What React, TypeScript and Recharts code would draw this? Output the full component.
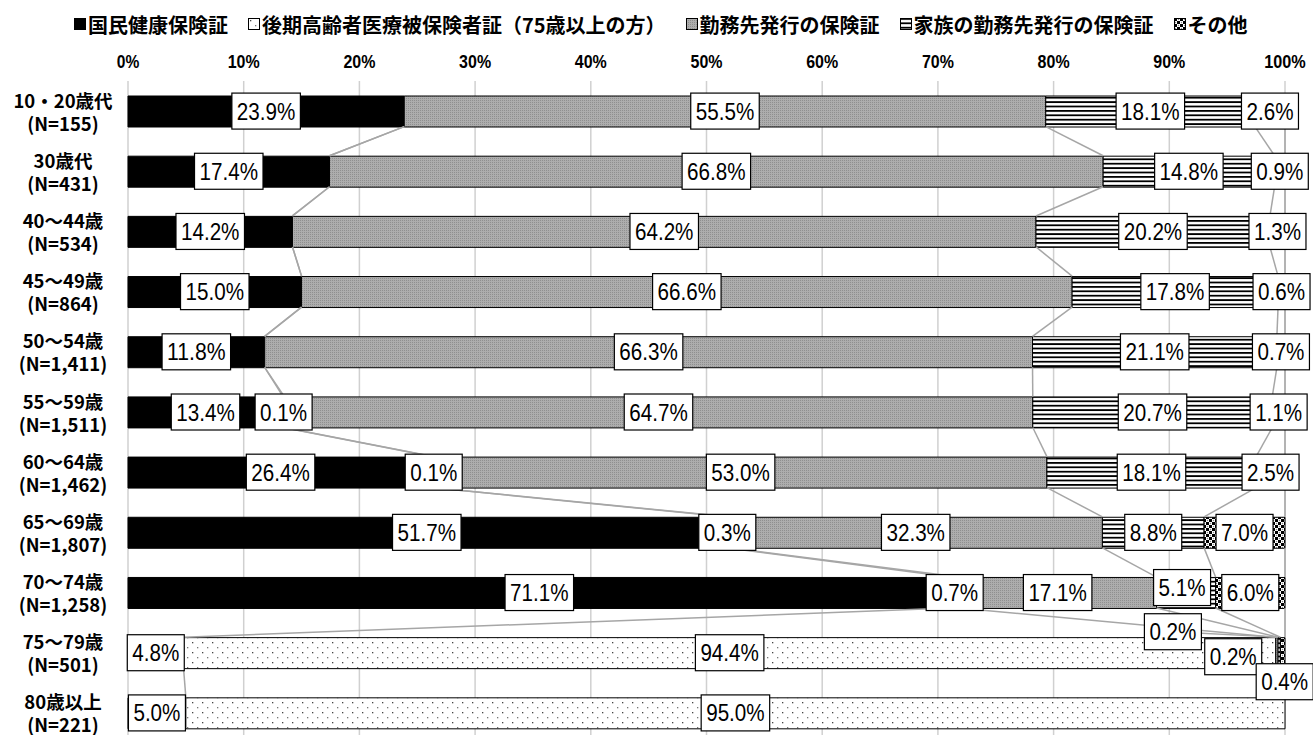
import {
  Bar,
  BarChart,
  CartesianGrid,
  ReferenceDot,
  ReferenceLine,
  XAxis,
  YAxis,
} from "recharts";

// 年代別・保有している保険証（%）
const AGE_GROUPS = [
  "10・20歳代",
  "30歳代",
  "40～44歳",
  "45～49歳",
  "50～54歳",
  "55～59歳",
  "60～64歳",
  "65～69歳",
  "70～74歳",
  "75～79歳",
  "80歳以上",
];
const SAMPLE_SIZES = [
  "N=155",
  "N=431",
  "N=534",
  "N=864",
  "N=1,411",
  "N=1,511",
  "N=1,462",
  "N=1,807",
  "N=1,258",
  "N=501",
  "N=221",
];

const KOKUHO = [23.9, 17.4, 14.2, 15.0, 11.8, 13.4, 26.4, 51.7, 71.1, 4.8, 5.0];
const KOUKI = [0, 0, 0, 0, 0, 0.1, 0.1, 0.3, 0.7, 94.4, 95.0];
const KINMU = [55.5, 66.8, 64.2, 66.6, 66.3, 64.7, 53.0, 32.3, 17.1, 0.2, 0];
const KAZOKU = [18.1, 14.8, 20.2, 17.8, 21.1, 20.7, 18.1, 8.8, 5.1, 0.2, 0];
const SONOTA = [2.6, 0.9, 1.3, 0.6, 0.7, 1.1, 2.5, 7.0, 6.0, 0.4, 0];

const SERIES_KEYS = ["kokuho", "kouki", "kinmu", "kazoku", "sonota"];
const SERIES_NAMES = [
  "国民健康保険証",
  "後期高齢者医療被保険者証（75歳以上の方）",
  "勤務先発行の保険証",
  "家族の勤務先発行の保険証",
  "その他",
];
const SERIES_VALUES = [KOKUHO, KOUKI, KINMU, KAZOKU, SONOTA];

const X_TICKS = [0, 0.1, 0.2, 0.3, 0.4, 0.5, 0.6, 0.7, 0.8, 0.9, 1];

// layout
const W = 1313;
const H = 745;
const MARGIN = { top: 51, right: 28, bottom: 2, left: 0 };
const X_AXIS_H = 30;
const Y_AXIS_W = 128;
const BAR = 31;
const LINE_GRAY = "#a6a6a6";

// labels that were dragged off their segment in the original
const LABEL_NUDGE: Record<string, { dx: number; dy: number }> = {
  "kazoku-8": { dx: -4, dy: -5 },
  "kinmu-9": { dx: -104, dy: -21 },
  "kazoku-9": { dx: -46, dy: 4 },
  "sonota-9": { dx: 2, dy: 29 },
};

const rows = AGE_GROUPS.map((group, i) => {
  const row: Record<string, string | number> = { group, n: SAMPLE_SIZES[i] };
  SERIES_KEYS.forEach((k, s) => (row[k] = SERIES_VALUES[s][i]));
  return row;
});

const rowTotal = (i: number) => SERIES_VALUES.reduce((sum, v) => sum + v[i], 0);
const cumEnd = (s: number, i: number) => {
  let acc = 0;
  for (let k = 0; k <= s; k++) acc += SERIES_VALUES[k][i];
  return acc / rowTotal(i);
};

function Patterns({ prefix }: { prefix: string }) {
  return (
    <defs>
      <pattern id={`${prefix}-kouki`} width={10} height={10} patternUnits="userSpaceOnUse">
        <rect width={10} height={10} fill="#fff" />
        <rect x={2} y={2} width={1.3} height={1.3} fill="#444" />
        <rect x={7} y={7} width={1.3} height={1.3} fill="#777" />
      </pattern>
      <pattern id={`${prefix}-kinmu`} width={2} height={2} patternUnits="userSpaceOnUse">
        <rect width={2} height={2} fill="#adadad" />
        <rect width={1} height={1} fill="#8f8f8f" />
      </pattern>
      <pattern id={`${prefix}-kazoku`} width={4} height={4.4} patternUnits="userSpaceOnUse">
        <rect width={4} height={4.4} fill="#fff" />
        <rect width={4} height={1.8} fill="#000" />
      </pattern>
      <pattern id={`${prefix}-sonota`} width={6} height={6} patternUnits="userSpaceOnUse">
        <rect width={6} height={6} fill="#fff" />
        <rect width={3} height={3} fill="#000" />
        <rect x={3} y={3} width={3} height={3} fill="#000" />
        <circle cx={4.5} cy={1.5} r={0.7} fill="#888" />
        <circle cx={1.5} cy={4.5} r={0.7} fill="#888" />
      </pattern>
    </defs>
  );
}

const fillFor = (prefix: string, key: string) => (key === "kokuho" ? "#000" : `url(#${prefix}-${key})`);

const textWidth = (t: string, digit: number, dot: number, pct: number) =>
  [...t].reduce((w, c) => w + (c === "." ? dot : c === "%" ? pct : digit), 0);

function XTick(props: any) {
  const { x, y, payload } = props;
  const t = `${Math.round(payload.value * 100)}%`;
  return (
    <text
      x={x}
      y={y}
      textAnchor="middle"
      fontFamily="'Liberation Sans', Arial, sans-serif"
      fontWeight={700}
      fontSize={18}
      fill="#000"
      textLength={textWidth(t, 9.5, 5, 13)}
      lengthAdjust="spacingAndGlyphs"
    >
      {t}
    </text>
  );
}

function YTick(props: any) {
  const { y, payload, index } = props;
  const cx = 63;
  const style = { fontFamily: "'Noto Sans CJK JP', sans-serif", fontWeight: 700, fontSize: 18.5, fill: "#000" };
  return (
    <g>
      <text x={cx} y={y - 11.5} textAnchor="middle" dominantBaseline="central" {...style}>
        {payload.value}
      </text>
      <text x={cx} y={y + 11.5} textAnchor="middle" dominantBaseline="central" {...style}>
        ({SAMPLE_SIZES[index]})
      </text>
    </g>
  );
}

// Excel-style series line: from the bottom edge of one bar to the top edge of the next
function SeriesLine(p: any) {
  return (
    <line
      x1={p.x1}
      y1={p.y1 + BAR / 2}
      x2={p.x2}
      y2={p.y2 - BAR / 2}
      stroke={LINE_GRAY}
      strokeWidth={1.5}
    />
  );
}

function boxLabel(text: string, nudge?: { dx: number; dy: number }) {
  return (props: any) => {
    const { cx, cy } = props;
    const tw = textWidth(text, 11.5, 11, 13);
    const bw = tw + 10;
    const bh = 36;
    const lx = cx + (nudge ? nudge.dx : 0);
    const ly = cy + (nudge ? nudge.dy : 0);
    const leader = nudge && Math.abs(nudge.dx) + Math.abs(nudge.dy) > 12;
    const ay = nudge && nudge.dy > 0 ? cy + BAR / 2 : cy - BAR / 2;
    return (
      <g>
        {leader && <line x1={cx} y1={ay} x2={lx} y2={ly} stroke={LINE_GRAY} strokeWidth={1.3} />}
        <rect x={lx - bw / 2} y={ly - bh / 2} width={bw} height={bh} fill="#fff" stroke="#000" strokeWidth={1.2} />
        <text
          x={lx}
          y={ly + 8.5}
          textAnchor="middle"
          fontFamily="'Liberation Sans', Arial, sans-serif"
          fontSize={24}
          fill="#000"
          textLength={tw}
          lengthAdjust="spacingAndGlyphs"
        >
          {text}
        </text>
      </g>
    );
  };
}

function ChartLegend() {
  return (
    <div
      style={{
        position: "absolute",
        top: 10,
        left: 74,
        height: 28,
        display: "flex",
        alignItems: "center",
        gap: 20,
        fontFamily: "'Noto Sans CJK JP', sans-serif",
        fontWeight: 700,
        fontSize: 20,
        color: "#000",
        whiteSpace: "nowrap",
      }}
    >
      {SERIES_KEYS.map((k, s) => (
        <div key={k} style={{ display: "flex", alignItems: "center", gap: 2 }}>
          <svg width={12} height={12}>
            <Patterns prefix={`lg${s}`} />
            <rect x={0.5} y={0.5} width={11} height={11} fill={fillFor(`lg${s}`, k)} stroke="#000" strokeWidth={1} />
          </svg>
          <span>{SERIES_NAMES[s]}</span>
        </div>
      ))}
    </div>
  );
}

export default function App() {
  const seriesLines = [];
  for (let s = 0; s < SERIES_KEYS.length; s++) {
    for (let i = 0; i < AGE_GROUPS.length - 1; i++) {
      seriesLines.push(
        <ReferenceLine
          key={`sl-${s}-${i}`}
          segment={[
            { x: cumEnd(s, i), y: AGE_GROUPS[i] },
            { x: cumEnd(s, i + 1), y: AGE_GROUPS[i + 1] },
          ]}
          shape={SeriesLine}
          ifOverflow="visible"
          zIndex={450}
        />
      );
    }
  }

  const labels = [];
  for (let s = 0; s < SERIES_KEYS.length; s++) {
    for (let i = 0; i < AGE_GROUPS.length; i++) {
      const v = SERIES_VALUES[s][i];
      if (!v) continue;
      const center = cumEnd(s, i) - v / 2 / rowTotal(i);
      const key = `${SERIES_KEYS[s]}-${i}`;
      labels.push(
        <ReferenceDot
          key={`lb-${key}`}
          x={center}
          y={AGE_GROUPS[i]}
          r={0}
          ifOverflow="visible"
          zIndex={1500}
          shape={boxLabel(`${v.toFixed(1)}%`, LABEL_NUDGE[key])}
        />
      );
    }
  }

  return (
    <div style={{ position: "relative", width: W, height: 735, overflow: "hidden", background: "#fff" }}>
      <style>{"body{margin:0}"}</style>
      <ChartLegend />
      <BarChart
        width={W}
        height={H}
        data={rows}
        layout="vertical"
        stackOffset="expand"
        margin={MARGIN}
        barSize={BAR}
      >
        <Patterns prefix="pt" />
        <CartesianGrid horizontal={false} stroke="#d0d0d0" strokeWidth={1.5} />
        <XAxis
          type="number"
          orientation="top"
          domain={[0, 1]}
          ticks={X_TICKS}
          height={X_AXIS_H}
          axisLine={false}
          tickLine={false}
          tickMargin={7}
          tick={XTick}
          interval={0}
        />
        <YAxis
          type="category"
          dataKey="group"
          width={Y_AXIS_W}
          axisLine={false}
          tickLine={false}
          tick={YTick}
          interval={0}
        />
        {SERIES_KEYS.map((k, s) => (
          <Bar
            key={k}
            dataKey={k}
            name={SERIES_NAMES[s]}
            stackId="a"
            fill={fillFor("pt", k)}
            stroke="#000"
            strokeWidth={1}
            isAnimationActive={false}
          />
        ))}
        {seriesLines}
        {labels}
      </BarChart>
    </div>
  );
}
